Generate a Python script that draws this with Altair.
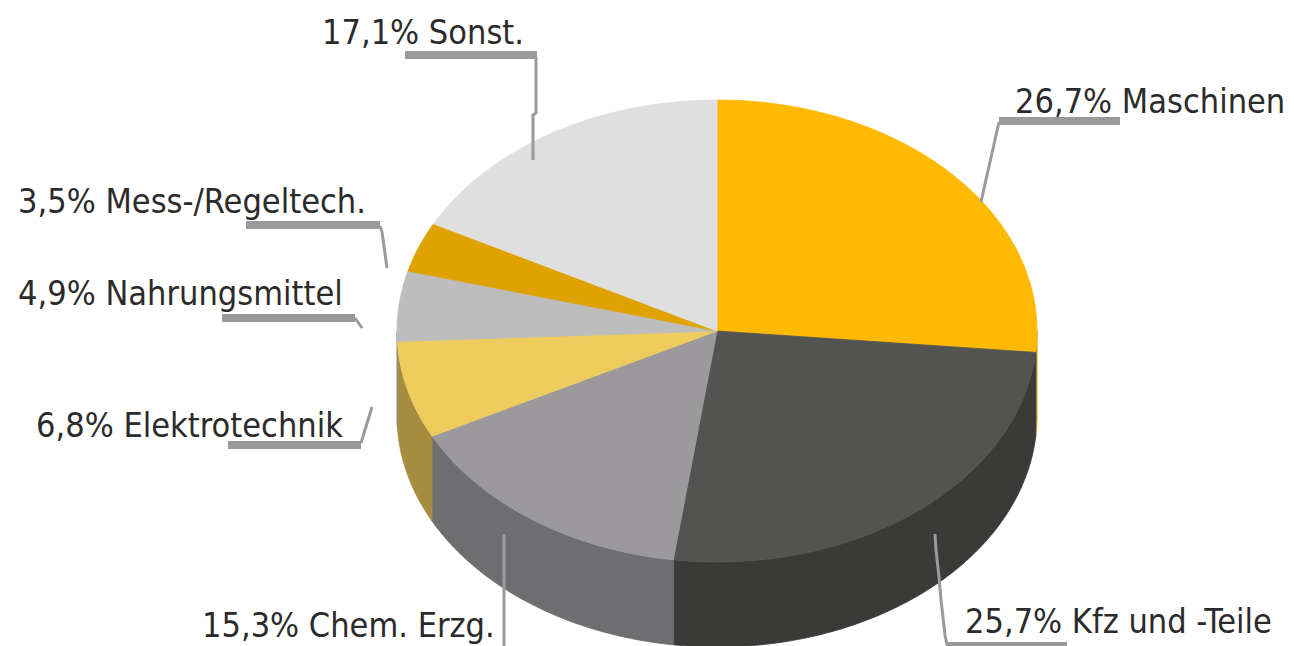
import math
import altair as alt
import pandas as pd

names = ["Maschinen", "Kfz und -Teile", "Chem. Erzg.", "Elektrotechnik", "Nahrungsmittel", "Mess-/Regeltech.", "Sonst."]
shares = [26.7, 25.7, 15.3, 6.8, 4.9, 3.5, 17.1]
share_text = ["26,7%", "25,7%", "15,3%", "6,8%", "4,9%", "3,5%", "17,1%"]
top_colors = ["#ffb900", "#535452", "#9b999c", "#edcb5d", "#bdbdbd", "#dfa200", "#dfdfdf"]
side_colors = ["#b88a00", "#3a3b38", "#6e6d6f", "#a68c3e", "#8e8e8e", "#a87a00", "#a8a8a8"]

# layout of the pie in picture pixels
CX, CY, RX, RY, DEPTH = 717, 331, 320, 231, 85
INNER_SHIFT = -0.8  # the drawn slice edges sit slightly before the exact share angle
label_pos = [(1015, 113), (965, 633), (202, 637), (36, 437), (18, 305), (18, 213), (322, 44)]
thick = [[(999, 121), (1120, 121)], [(946, 646), (1067, 646)], None, [(228, 445), (361, 445)],
         [(222, 318), (355, 318)], [(246, 225), (380, 225)], [(405, 55), (537, 55)]]
thin = [[(999, 122), (981, 202)],
        [(935, 534), (936, 550), (939, 577), (941, 600), (945, 635), (947, 645)],
        [(504, 534), (504, 646)],
        [(361, 443), (372, 407)],
        [(355, 318), (362, 328)],
        [(380, 226), (382, 232), (387, 268)],
        [(536, 57), (536, 113), (533, 115), (533, 160)]]


def pt(t, dy=0):
    a = math.radians(t)
    return CX + RX * math.sin(a), CY - RY * math.cos(a) + dy


def arc(t0, t1, dy=0):
    n = max(2, int(abs(t1 - t0)) + 2)
    return [pt(t0 + (t1 - t0) * i / (n - 1), dy) for i in range(n)]


rows = []
cum = 0.0
start = 0.0
for k, (name, s) in enumerate(zip(names, shares)):
    cum += s
    end = cum * 3.6 + (INNER_SHIFT if k < len(shares) - 1 else 0)
    # visible wall
    a, b = max(start, 90), min(end, 270)
    if a < b:
        poly = arc(a, b) + arc(b, a, DEPTH)
        poly.append(poly[0])
        for i, (x, y) in enumerate(poly):
            rows.append(dict(slice=f"w{k}", col=side_colors[k], x=x, y=y, i=i, z=0))
    # top surface
    poly = [(CX, CY)] + arc(start, end) + [(CX, CY)]
    for i, (x, y) in enumerate(poly):
        rows.append(dict(slice=f"t{k}", col=top_colors[k], x=x, y=y, i=i, z=1))
    start = end
pie = pd.DataFrame(rows)

xs = alt.Scale(domain=[8, 1286], range=[0, 1278], nice=False, zero=False)
ys = alt.Scale(domain=[8, 646], range=[0, 638], nice=False, zero=False)
X = lambda: alt.X("x:Q", scale=xs, axis=None)
Y = lambda: alt.Y("y:Q", scale=ys, axis=None)


def fill_layer(z):
    return alt.Chart(pie[pie.z == z]).mark_line(strokeWidth=0.8, interpolate="linear").encode(
        x=X(), y=Y(), order="i:Q",
        detail="slice:N",
        color=alt.Color("col:N", scale=None, legend=None),
        fill=alt.Fill("col:N", scale=None, legend=None),
    )


thick_rows = [dict(id=k, x=x, y=y, i=i) for k, seg in enumerate(thick) if seg for i, (x, y) in enumerate(seg)]
thin_rows = [dict(id=k, x=x, y=y, i=i) for k, seg in enumerate(thin) for i, (x, y) in enumerate(seg)]
thick_l = alt.Chart(pd.DataFrame(thick_rows)).mark_line(color="#9b999c", strokeWidth=8, strokeCap="butt").encode(
    x=X(), y=Y(), order="i:Q", detail="id:N")
thin_l = alt.Chart(pd.DataFrame(thin_rows)).mark_line(color="#9b999c", strokeWidth=3, strokeCap="butt", strokeJoin="miter").encode(
    x=X(), y=Y(), order="i:Q", detail="id:N")

labels = pd.DataFrame({
    "label": [f"{p} {n}" for p, n in zip(share_text, names)],
    "x": [p[0] for p in label_pos],
    "y": [p[1] for p in label_pos],
})
text = alt.Chart(labels).mark_text(
    align="left", baseline="alphabetic", font="DejaVu Sans Condensed",
    fontSize=34, color="#2b2b2b").encode(x=X(), y=Y(), text="label:N")

chart = alt.layer(
    fill_layer(0), fill_layer(1), thin_l, thick_l, text
).properties(
    width=1278, height=638, padding=0, background="white",
    autosize=alt.AutoSizeParams(type="none"),
).configure_view(stroke=None)

chart.save("out.html", embed_options={"renderer": "svg", "actions": False})
